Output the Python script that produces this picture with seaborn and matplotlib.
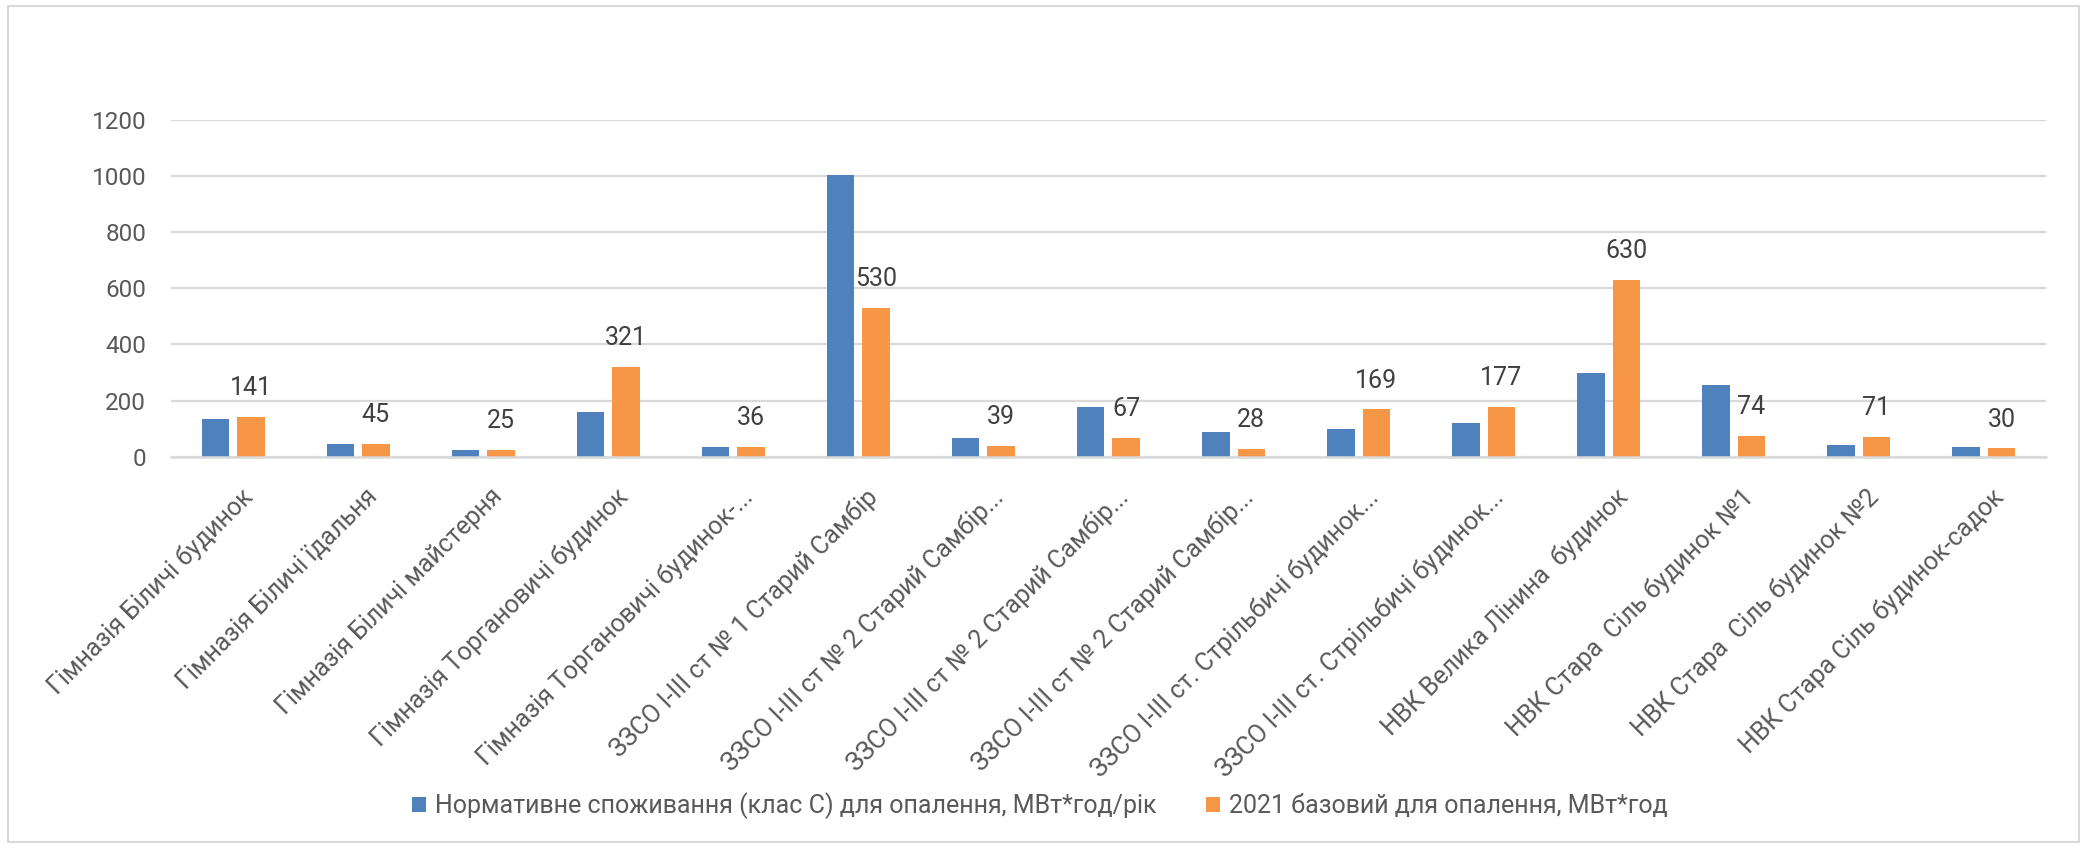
import matplotlib
matplotlib.use('Agg')
import matplotlib.pyplot as plt
import matplotlib.transforms as mtransforms
from matplotlib.patches import Rectangle
import pandas as pd
import seaborn as sns

# chart data
categories = [
    'Гімназія Біличі будинок',
    'Гімназія Біличі їдальня',
    'Гімназія Біличі майстерня',
    'Гімназія Торгановичі будинок',
    'Гімназія Торгановичі будинок-...',
    'ЗЗСО I-III ст № 1 Старий Самбір',
    'ЗЗСО I-III ст № 2 Старий Самбір...',
    'ЗЗСО I-III ст № 2 Старий Самбір...',
    'ЗЗСО I-III ст № 2 Старий Самбір...',
    'ЗЗСО I-III ст. Стрільбичі будинок...',
    'ЗЗСО I-III ст. Стрільбичі будинок...',
    'НВК Велика Лінина  будинок',
    'НВК Стара  Сіль будинок №1',
    'НВК Стара  Сіль будинок №2',
    'НВК Стара Сіль будинок-садок',
]
normative = [133, 44, 24, 160, 35, 1004, 68, 176, 87, 98, 119, 297, 254, 41, 34]
base_2021 = [141, 45, 25, 321, 36, 530, 39, 67, 28, 169, 177, 630, 74, 71, 30]
series_names = [
    'Нормативне споживання (клас С) для опалення, МВт*год/рік',
    '2021 базовий для опалення, МВт*год',
]
colors = ['#4F81BD', '#F79646']
yticks = [0, 200, 400, 600, 800, 1000, 1200]

sns.set_theme(style='white')
plt.rcParams['font.family'] = ['Roboto', 'DejaVu Sans']

n = len(categories)
df = pd.DataFrame({
    'idx': list(range(n)) * 2,
    'value': normative + base_2021,
    'series': [series_names[0]] * n + [series_names[1]] * n,
})

fig = plt.figure(figsize=(20.83, 8.48), dpi=100)
ax = fig.add_axes([0.0819, 0.4614, 0.9005, 0.3975])

sns.barplot(data=df, x='idx', y='value', hue='series', hue_order=series_names,
            palette=colors, width=0.568, gap=0.225, saturation=1,
            errorbar=None, ax=ax, linewidth=0)

ax.set_xlim(-0.5, n - 0.5)
ax.set_ylim(0, 1200)
ax.set_yticks(yticks)
ax.yaxis.grid(True, color='#D9D9D9', linewidth=1.6)
ax.set_axisbelow(True)
for s in ['top', 'right', 'left']:
    ax.spines[s].set_visible(False)
ax.spines['bottom'].set_color('#D9D9D9')
ax.spines['bottom'].set_linewidth(1.8)
ax.set_xlabel('')
ax.set_ylabel('')

ax.tick_params(axis='y', length=0, pad=17.6, labelsize=17.5, labelcolor='#595959')
ax.tick_params(axis='x', length=0, pad=20, labelsize=18, labelcolor='#595959')
ax.set_xticks(range(n))
ax.set_xticklabels(categories, rotation=45, ha='right', va='top',
                   rotation_mode='anchor')
shift = mtransforms.ScaledTranslation(0.07, 0, fig.dpi_scale_trans)
for lbl in ax.get_xticklabels():
    lbl.set_transform(lbl.get_transform() + shift)

# data labels only on the 2021 series
ax.bar_label(ax.containers[1], labels=[str(v) for v in base_2021],
             padding=12, fontsize=18, color='#404040')

ax.legend(loc='center', bbox_to_anchor=(1040 / 2083, 1 - 806 / 848),
          bbox_transform=fig.transFigure, ncol=2, frameon=False,
          fontsize=18, handlelength=0.55, handleheight=0.55,
          handletextpad=0.35, columnspacing=2.0, labelcolor='#595959')

fig.patches.append(Rectangle((8 / 2083, 6 / 848), (2079 - 8) / 2083, (842 - 6) / 848,
                             transform=fig.transFigure, fill=False,
                             edgecolor='#D9D9D9', linewidth=1.5))

fig.savefig('out.png', dpi=100, facecolor='white')
